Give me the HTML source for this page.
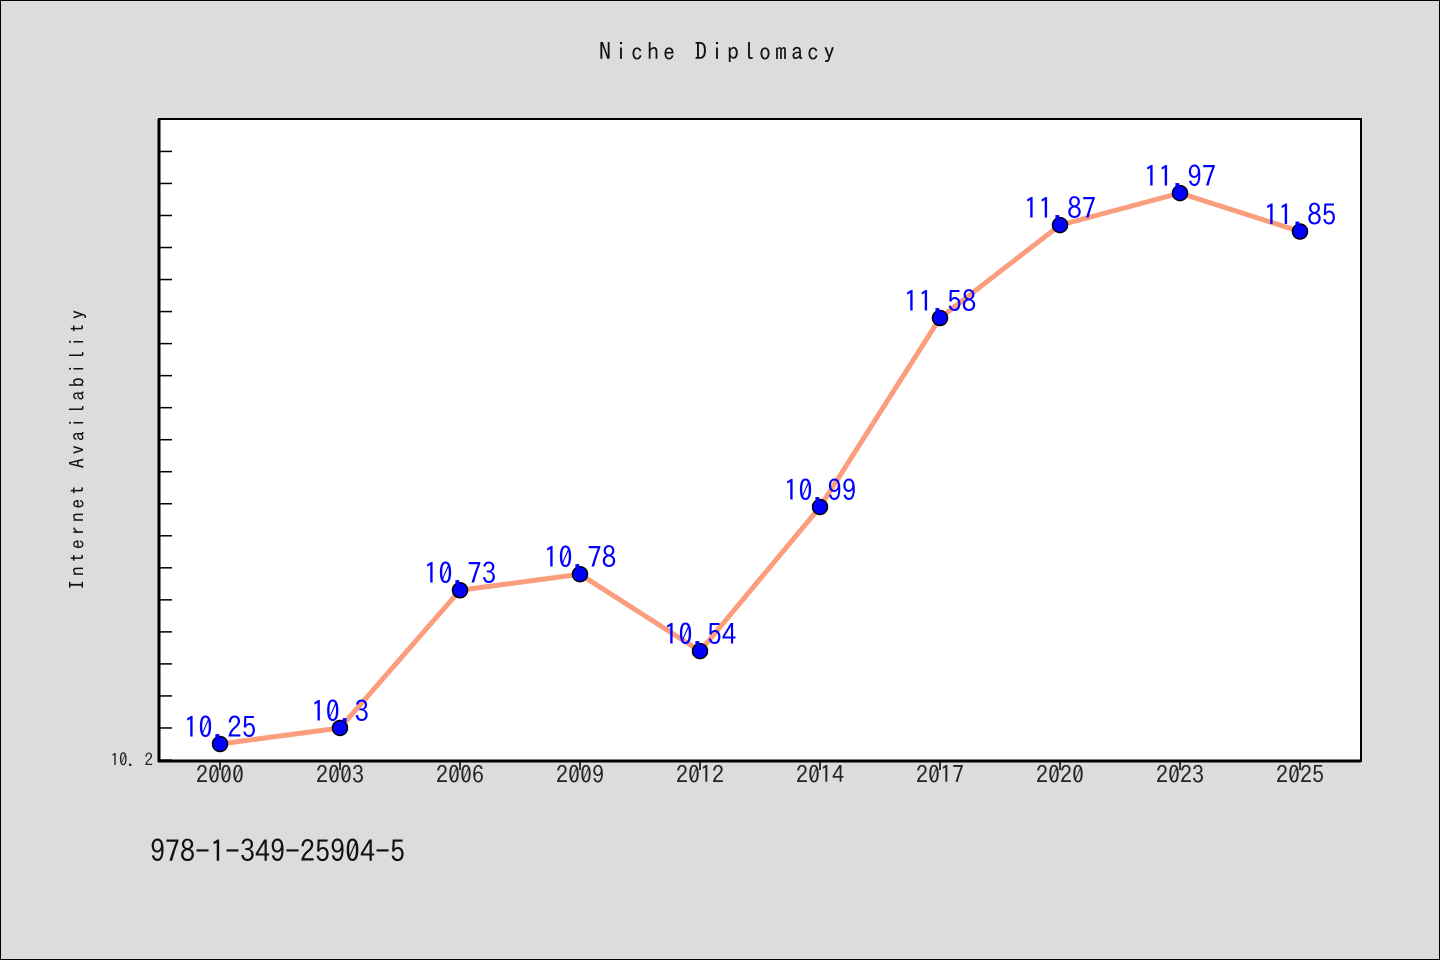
<!DOCTYPE html>
<html><head><meta charset="utf-8"><style>
body{margin:0;background:#dcdcdc;}
svg{display:block;font-family:"IPAGothic","WenQuanYi Zen Hei","Noto Sans CJK JP",monospace;}
</style></head><body>
<svg width="1440" height="960">
<rect x="0.5" y="0.5" width="1439" height="959" fill="#dcdcdc" stroke="#000"/>
<text x="719" y="60" text-anchor="middle" font-size="24" letter-spacing="4" fill="#111">Niche Diplomacy</text>
<rect x="159" y="119" width="1202" height="642" fill="#fff" stroke="#000" stroke-width="2"/>
<text transform="translate(84,448) rotate(-90)" text-anchor="middle" font-size="20" letter-spacing="3.5" fill="#111">Internet Availability</text>
<text x="150" y="862" font-size="30" fill="#111">978-1-349-25904-5</text>
<g id="axes"></g><g id="marks"></g>
</svg>
<script>
const categories=["2000","2003","2006","2009","2012","2014","2017","2020","2023","2025"];
const values=[10.25,10.3,10.73,10.78,10.54,10.99,11.58,11.87,11.97,11.85];
const yTickLabels=["10.2"];
const NS="http://www.w3.org/2000/svg";
const x0=220,dx=120,yBase=760,yMin=10.2,pxPer=320.3;
const xs=i=>x0+i*dx, ys=v=>yBase-(v-yMin)*pxPer;
function mk(t,a,p){const e=document.createElementNS(NS,t);for(const k in a)e.setAttribute(k,a[k]);p.appendChild(e);return e;}
const ax=document.getElementById('axes'),mg=document.getElementById('marks');
for(let k=0;k<=19;k++){const y=ys(yMin+k*0.1);const t=mk('line',{x1:159,x2:172,y1:y,y2:y,stroke:'#000','stroke-width':1.5},ax);

}
yTickLabels.forEach(l=>{const t=mk('text',{x:153,y:ys(parseFloat(l))+6,'text-anchor':'end','font-size':17,fill:'#222'},ax);t.textContent=l.replace('.','. ');

});
mk('line',{x1:159,x2:159,y1:119,y2:762,stroke:'#000','stroke-width':3},ax);
mk('line',{x1:158,x2:1361,y1:761,y2:761,stroke:'#000','stroke-width':3},ax);
categories.forEach((c,i)=>{const l=mk('line',{x1:xs(i),x2:xs(i),y1:761,y2:770,stroke:'#000','stroke-width':1.5},ax);


const t=mk('text',{x:xs(i),y:783,'text-anchor':'middle','font-size':24,fill:'#222'},ax);t.textContent=c;

});
const pl=mk('polyline',{points:values.map((v,i)=>xs(i)+','+ys(v)).join(' '),fill:'none',stroke:'#fa9e7e','stroke-width':5},mg);


values.forEach((v,i)=>{const c=mk('circle',{cx:xs(i),cy:ys(v),r:7.5,fill:'#0000ff',stroke:'#000','stroke-width':1.5},mg);


const t=mk('text',{x:xs(i),y:ys(v)-6,'text-anchor':'middle','font-size':29,fill:'#0000ff'},mg);t.textContent=String(v);

});
</script>
</body></html>
